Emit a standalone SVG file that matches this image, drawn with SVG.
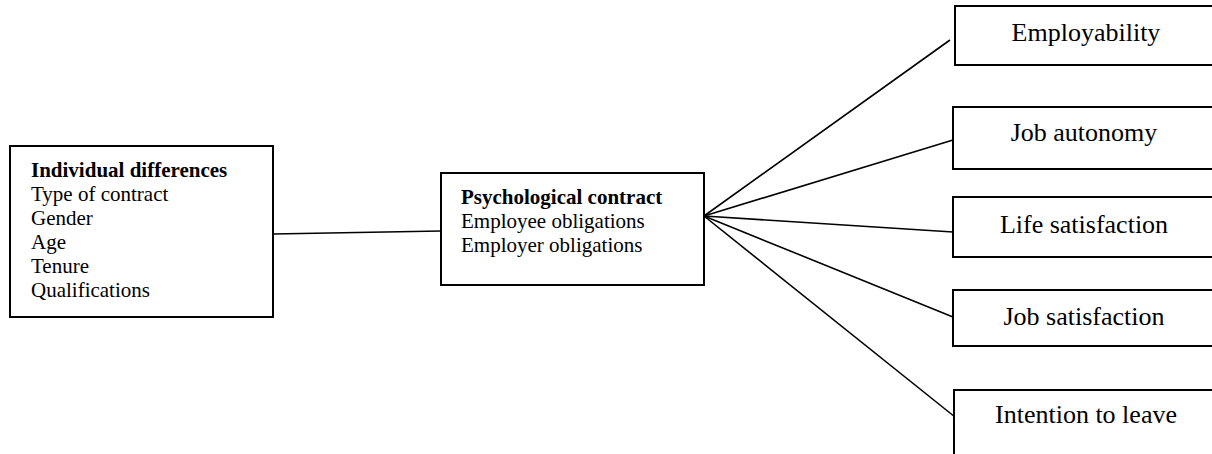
<svg xmlns="http://www.w3.org/2000/svg" width="1212" height="454" viewBox="0 0 1212 454">
  <style>
    .box { fill: #ffffff; stroke: #000000; stroke-width: 2; }
    .link { fill: none; stroke: #000000; stroke-width: 1.6; }
    text { font-family: "Liberation Serif", "Times New Roman", serif; fill: #000000; }
    .list { font-size: 21px; }
    .head { font-weight: bold; }
    .out { font-size: 26px; text-anchor: middle; }
  </style>
  <rect width="1212" height="454" fill="#ffffff"/>

  <!-- connectors -->
  <g id="connectors">
    <line class="link" x1="273" y1="234" x2="441" y2="231"/>
    <line class="link" x1="704" y1="216" x2="950" y2="40"/>
    <line class="link" x1="704" y1="216" x2="953" y2="140"/>
    <line class="link" x1="704" y1="216" x2="953" y2="232"/>
    <line class="link" x1="704" y1="216" x2="953" y2="317"/>
    <line class="link" x1="704" y1="216" x2="955" y2="417"/>
  </g>

  <!-- left node: individual differences -->
  <g id="individual-differences">
    <rect class="box" x="10" y="146" width="263" height="171"/>
    <text class="list head" x="31" y="177">Individual differences</text>
    <text class="list" x="31" y="201">Type of contract</text>
    <text class="list" x="31" y="225">Gender</text>
    <text class="list" x="31" y="249">Age</text>
    <text class="list" x="31" y="273">Tenure</text>
    <text class="list" x="31" y="297">Qualifications</text>
  </g>

  <!-- central node: psychological contract -->
  <g id="psychological-contract">
    <rect class="box" x="441" y="173" width="263" height="112"/>
    <text class="list head" x="461" y="204">Psychological contract</text>
    <text class="list" x="461" y="228">Employee obligations</text>
    <text class="list" x="461" y="252">Employer obligations</text>
  </g>

  <!-- outcome nodes -->
  <g id="employability">
    <rect class="box" x="955" y="6" width="262" height="59"/>
    <text class="out" x="1086" y="41">Employability</text>
  </g>
  <g id="job-autonomy">
    <rect class="box" x="953" y="107" width="264" height="62"/>
    <text class="out" x="1084" y="141">Job autonomy</text>
  </g>
  <g id="life-satisfaction">
    <rect class="box" x="953" y="197" width="264" height="60"/>
    <text class="out" x="1084" y="233">Life satisfaction</text>
  </g>
  <g id="job-satisfaction">
    <rect class="box" x="953" y="290" width="264" height="56"/>
    <text class="out" x="1084" y="325">Job satisfaction</text>
  </g>
  <g id="intention-to-leave">
    <rect class="box" x="954" y="390" width="263" height="70"/>
    <text class="out" x="1086" y="423">Intention to leave</text>
  </g>
</svg>
